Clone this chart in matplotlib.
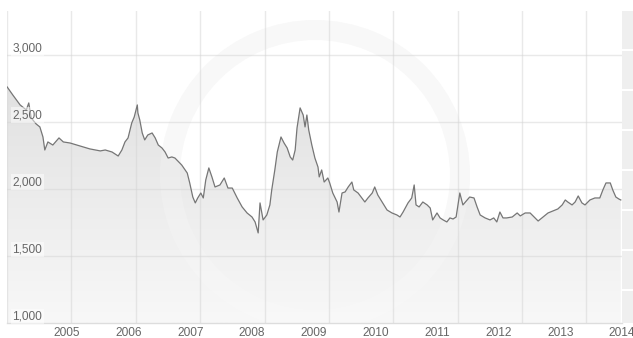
import numpy as np
import matplotlib
matplotlib.use("Agg")
import matplotlib.pyplot as plt
from matplotlib.patches import Wedge, Rectangle, Polygon
from matplotlib.colors import LinearSegmentedColormap
from matplotlib.transforms import blended_transform_factory, ScaledTranslation

# Exchange-rate history (decimal year, rate)
years = [
    2004.03, 2004.12, 2004.24, 2004.34, 2004.38, 2004.42, 2004.50, 2004.56, 2004.61, 2004.64,
    2004.69, 2004.77, 2004.87, 2004.94, 2005.05, 2005.21, 2005.37, 2005.54, 2005.62, 2005.73,
    2005.83, 2005.89, 2005.94, 2005.99, 2006.05, 2006.09, 2006.14, 2006.15, 2006.18, 2006.22,
    2006.26, 2006.31, 2006.38, 2006.43, 2006.48, 2006.54, 2006.59, 2006.64, 2006.70, 2006.75,
    2006.86, 2006.95, 2006.99, 2007.04, 2007.08, 2007.12, 2007.17, 2007.21, 2007.25, 2007.30,
    2007.35, 2007.40, 2007.48, 2007.55, 2007.61, 2007.68, 2007.76, 2007.84, 2007.92, 2008.00,
    2008.05, 2008.10, 2008.13, 2008.18, 2008.24, 2008.29, 2008.32, 2008.37, 2008.41, 2008.47,
    2008.52, 2008.57, 2008.62, 2008.66, 2008.70, 2008.73, 2008.78, 2008.83, 2008.86, 2008.89,
    2008.92, 2008.97, 2009.02, 2009.07, 2009.09, 2009.13, 2009.17, 2009.23, 2009.26, 2009.31,
    2009.38, 2009.41, 2009.46, 2009.51, 2009.56, 2009.62, 2009.65, 2009.72, 2009.78, 2009.83,
    2009.88, 2009.95, 2009.99, 2010.04, 2010.11, 2010.19, 2010.27, 2010.35, 2010.40, 2010.45,
    2010.53, 2010.59, 2010.63, 2010.66, 2010.71, 2010.77, 2010.84, 2010.89, 2010.93, 2011.00,
    2011.05, 2011.10, 2011.16, 2011.21, 2011.26, 2011.31, 2011.34, 2011.37, 2011.42, 2011.49,
    2011.53, 2011.60, 2011.65, 2011.70, 2011.78, 2011.86, 2011.92, 2011.97, 2012.02, 2012.07,
    2012.13, 2012.22, 2012.30, 2012.35, 2012.43, 2012.51, 2012.59, 2012.64, 2012.72, 2012.80,
    2012.88, 2012.96, 2013.03, 2013.08, 2013.12, 2013.19, 2013.24, 2013.29, 2013.35, 2013.40,
    2013.48, 2013.56, 2013.64, 2013.69, 2013.74, 2013.81, 2013.85, 2013.90, 2013.95, 2013.98,
]
rates = [
    2761, 2702, 2627, 2590, 2642, 2530, 2485, 2463, 2388, 2291,
    2351, 2328, 2381, 2351, 2343, 2321, 2299, 2284, 2291, 2276,
    2246, 2291, 2351, 2381, 2493, 2537, 2627, 2567, 2515, 2418,
    2366, 2403, 2418, 2381, 2328, 2306, 2276, 2231, 2239, 2231,
    2179, 2119, 2045, 1940, 1896, 1933, 1970, 1933, 2067, 2157,
    2090, 2015, 2030, 2082, 2007, 2007, 1933, 1866, 1821, 1791,
    1754, 1672, 1896, 1769, 1806, 1881, 1993, 2142, 2276, 2388,
    2343, 2306, 2239, 2216, 2291, 2455, 2605, 2552, 2463, 2552,
    2440, 2328, 2231, 2164, 2090, 2142, 2052, 2082, 2045, 1970,
    1903, 1828, 1970, 1978, 2015, 2052, 1993, 1970, 1933, 1903,
    1933, 1970, 2015, 1955, 1903, 1843, 1821, 1806, 1791, 1828,
    1896, 1933, 2030, 1881, 1866, 1903, 1881, 1858, 1769, 1821,
    1784, 1769, 1754, 1784, 1776, 1791, 1881, 1970, 1881, 1918,
    1940, 1933, 1866, 1806, 1784, 1769, 1784, 1754, 1828, 1784,
    1784, 1791, 1821, 1799, 1821, 1821, 1784, 1761, 1791, 1821,
    1836, 1851, 1881, 1918, 1903, 1881, 1903, 1948, 1896, 1881,
    1918, 1933, 1933, 1993, 2045, 2045, 1993, 1940, 1925, 1918,
]

y_ticks = [1000, 1500, 2000, 2500, 3000]
y_labels = ["1,000", "1,500", "2,000", "2,500", "3,000"]
x_ticks = list(range(2005, 2015))
x_labels = [str(y) for y in x_ticks]

plt.rcParams["font.family"] = ["Liberation Sans", "DejaVu Sans"]

W, H = 633, 338
fig = plt.figure(figsize=(W / 100, H / 100), dpi=100)
fig.patch.set_facecolor("white")
ax = fig.add_axes([7 / W, 15 / H, 615 / W, 312 / H])
x0, x1 = 2004.027, 2014.0
y0, y1 = 1000, 3328
ax.set_xlim(x0, x1)
ax.set_ylim(y0, y1)

# faint circular watermark behind the series
ring_under = Wedge((3.15, 1.63), 1.55, 0, 360, width=0.2, transform=fig.dpi_scale_trans,
                   facecolor="#f7f7f7", edgecolor="none", zorder=0.5)
ax.add_patch(ring_under)

# gradient area under the line
cmap = LinearSegmentedColormap.from_list("area", ["#f8f8f8", "#dadada"])
grad = np.linspace(0, 1, 256).reshape(-1, 1)
im = ax.imshow(grad, extent=[x0, x1, y0, y1], origin="lower", aspect="auto",
               cmap=cmap, zorder=1, interpolation="bilinear")
verts = np.column_stack([np.r_[years[0], years, years[-1]], np.r_[y0, rates, y0]])
clip = Polygon(verts, closed=True, transform=ax.transData, facecolor="none", edgecolor="none")
ax.add_patch(clip)
im.set_clip_path(clip)

ring_over = Wedge((3.15, 1.63), 1.55, 0, 360, width=0.2, transform=fig.dpi_scale_trans,
                  facecolor="white", alpha=0.18, edgecolor="none", zorder=1.5)
ax.add_patch(ring_over)

# grid
grid_step = 1.044
ax.set_xticks(np.arange(x0, x1, grid_step), minor=True)
ax.set_xticks(x_ticks)
ax.set_xticklabels(x_labels)
ax.set_yticks(y_ticks[1:])
ax.set_yticklabels([])
ax.set_axisbelow(False)
ax.grid(which="minor", axis="x", color="#d4d4d4", alpha=0.5, lw=1.0)
ax.grid(which="major", axis="y", color="#d4d4d4", alpha=0.5, lw=1.0)
ax.grid(which="major", axis="x", visible=False)

ax.tick_params(axis="both", which="both", length=0)
ax.tick_params(axis="x", colors="#666666", labelsize=8.6, pad=3)

for side in ["top", "right", "left"]:
    ax.spines[side].set_visible(False)
ax.spines["bottom"].set_color("#dddddd")
ax.spines["bottom"].set_linewidth(1.0)

# series line
ax.plot(years, rates, color="#767676", lw=0.9, zorder=4, solid_joinstyle="round")

# value labels sitting just above their grid lines
trans = blended_transform_factory(ax.transAxes, ax.transData) + ScaledTranslation(0, 0.5 / 72, fig.dpi_scale_trans)
for v, lab in zip(y_ticks, y_labels):
    ax.text(5.5 / 615, v, lab, transform=trans, ha="left", va="bottom", fontsize=8.6,
            color="#666666", zorder=5,
            bbox=dict(boxstyle="square,pad=0.15", facecolor="white", alpha=0.5, edgecolor="none"))

# side panel strip
for top in range(11, 323, 40):
    h = min(38, 323 - top)
    fig.patches.append(Rectangle((622 / W, 1 - (top + h) / H), 11 / W, h / H,
                                 transform=fig.transFigure, facecolor="#efefef",
                                 edgecolor="none", zorder=3))

fig.savefig("out.png", dpi=100, facecolor="white")
